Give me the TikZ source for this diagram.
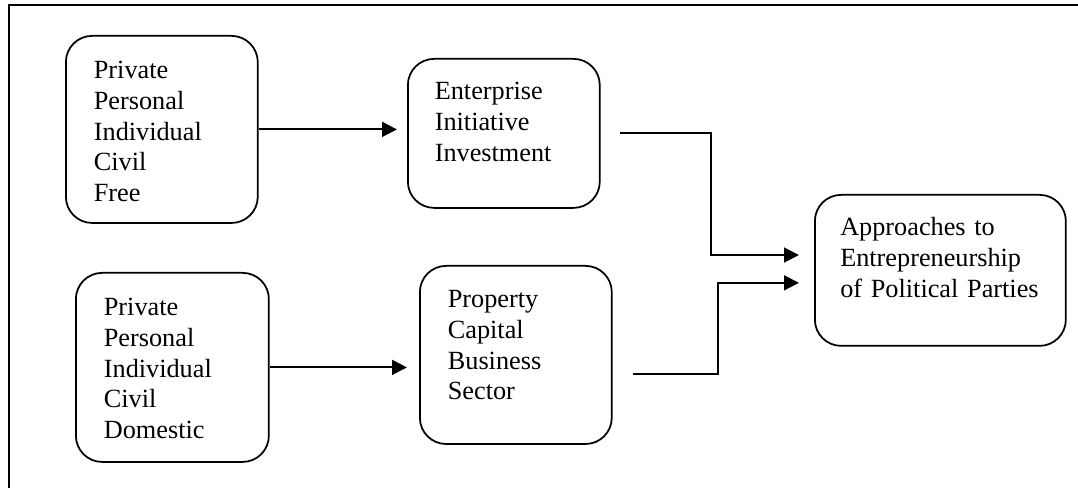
\documentclass[tikz,border=0pt]{standalone}
\usepackage{fontspec}
\setmainfont{Liberation Serif}
\usepackage{tikz}
\usetikzlibrary{arrows.meta, positioning, calc}

\begin{document}
\begin{tikzpicture}[
        x=0.457pt, y=-0.457pt,
        box/.style={rectangle, draw, line width=0.8pt, rounded corners=12pt,
                    anchor=north west, align=left, inner ysep=0pt, inner xsep=12.8pt,
                    font=\fontsize{12}{14}\selectfont},
        arr/.style={-{Triangle[length=6.8pt, width=6.8pt]}, line width=0.9pt},
        frame/.style={line width=0.9pt},
      ]
        \useasboundingbox (0,0) rectangle (1078,488);
        \draw[frame] (1078,5) -| (9,488);

        \node[box, text width=62.1pt, text height=19.7pt, text depth=65.8pt]
            (priv1) at (65,35)  {Private\\Personal\\Individual\\Civil\\Free};
        \node[box, text width=62.6pt, text height=19.7pt, text depth=66.7pt]
            (priv2) at (75,272) {Private\\Personal\\Individual\\Civil\\Domestic};
        \node[box, inner xsep=12.3pt, text width=63.1pt, text height=18.7pt, text depth=49.4pt]
            (enter) at (407,58) {Enterprise\\Initiative\\Investment};
        \node[box, text width=62.1pt, text height=19.2pt, text depth=62.2pt]
            (prop)  at (419,265) {Property\\Capital\\Business\\Sector};
        \node[box, inner xsep=11.6pt, text width=91.5pt, text height=18.7pt, text depth=50.3pt]
            (appr)  at (814,194) {Approaches to\\Entrepreneurship\\of Political Parties};

        \draw[arr, shorten >=4.6pt] (priv1.east) -- (priv1.east -| enter.west);
        \draw[arr, shorten >=5.5pt] (priv2.east) -- (priv2.east -| prop.west);
        \draw[arr, shorten >=6.9pt] ([xshift=9pt]enter.east) -- ++(91,0)
            |- ([yshift=7pt]appr.west);
        \draw[arr, shorten >=6.9pt] ([xshift=9.5pt, yshift=-8.7pt]prop.east) -- ++(85,0)
            |- ([yshift=-5.7pt]appr.west);
      \end{tikzpicture}
\end{document}
